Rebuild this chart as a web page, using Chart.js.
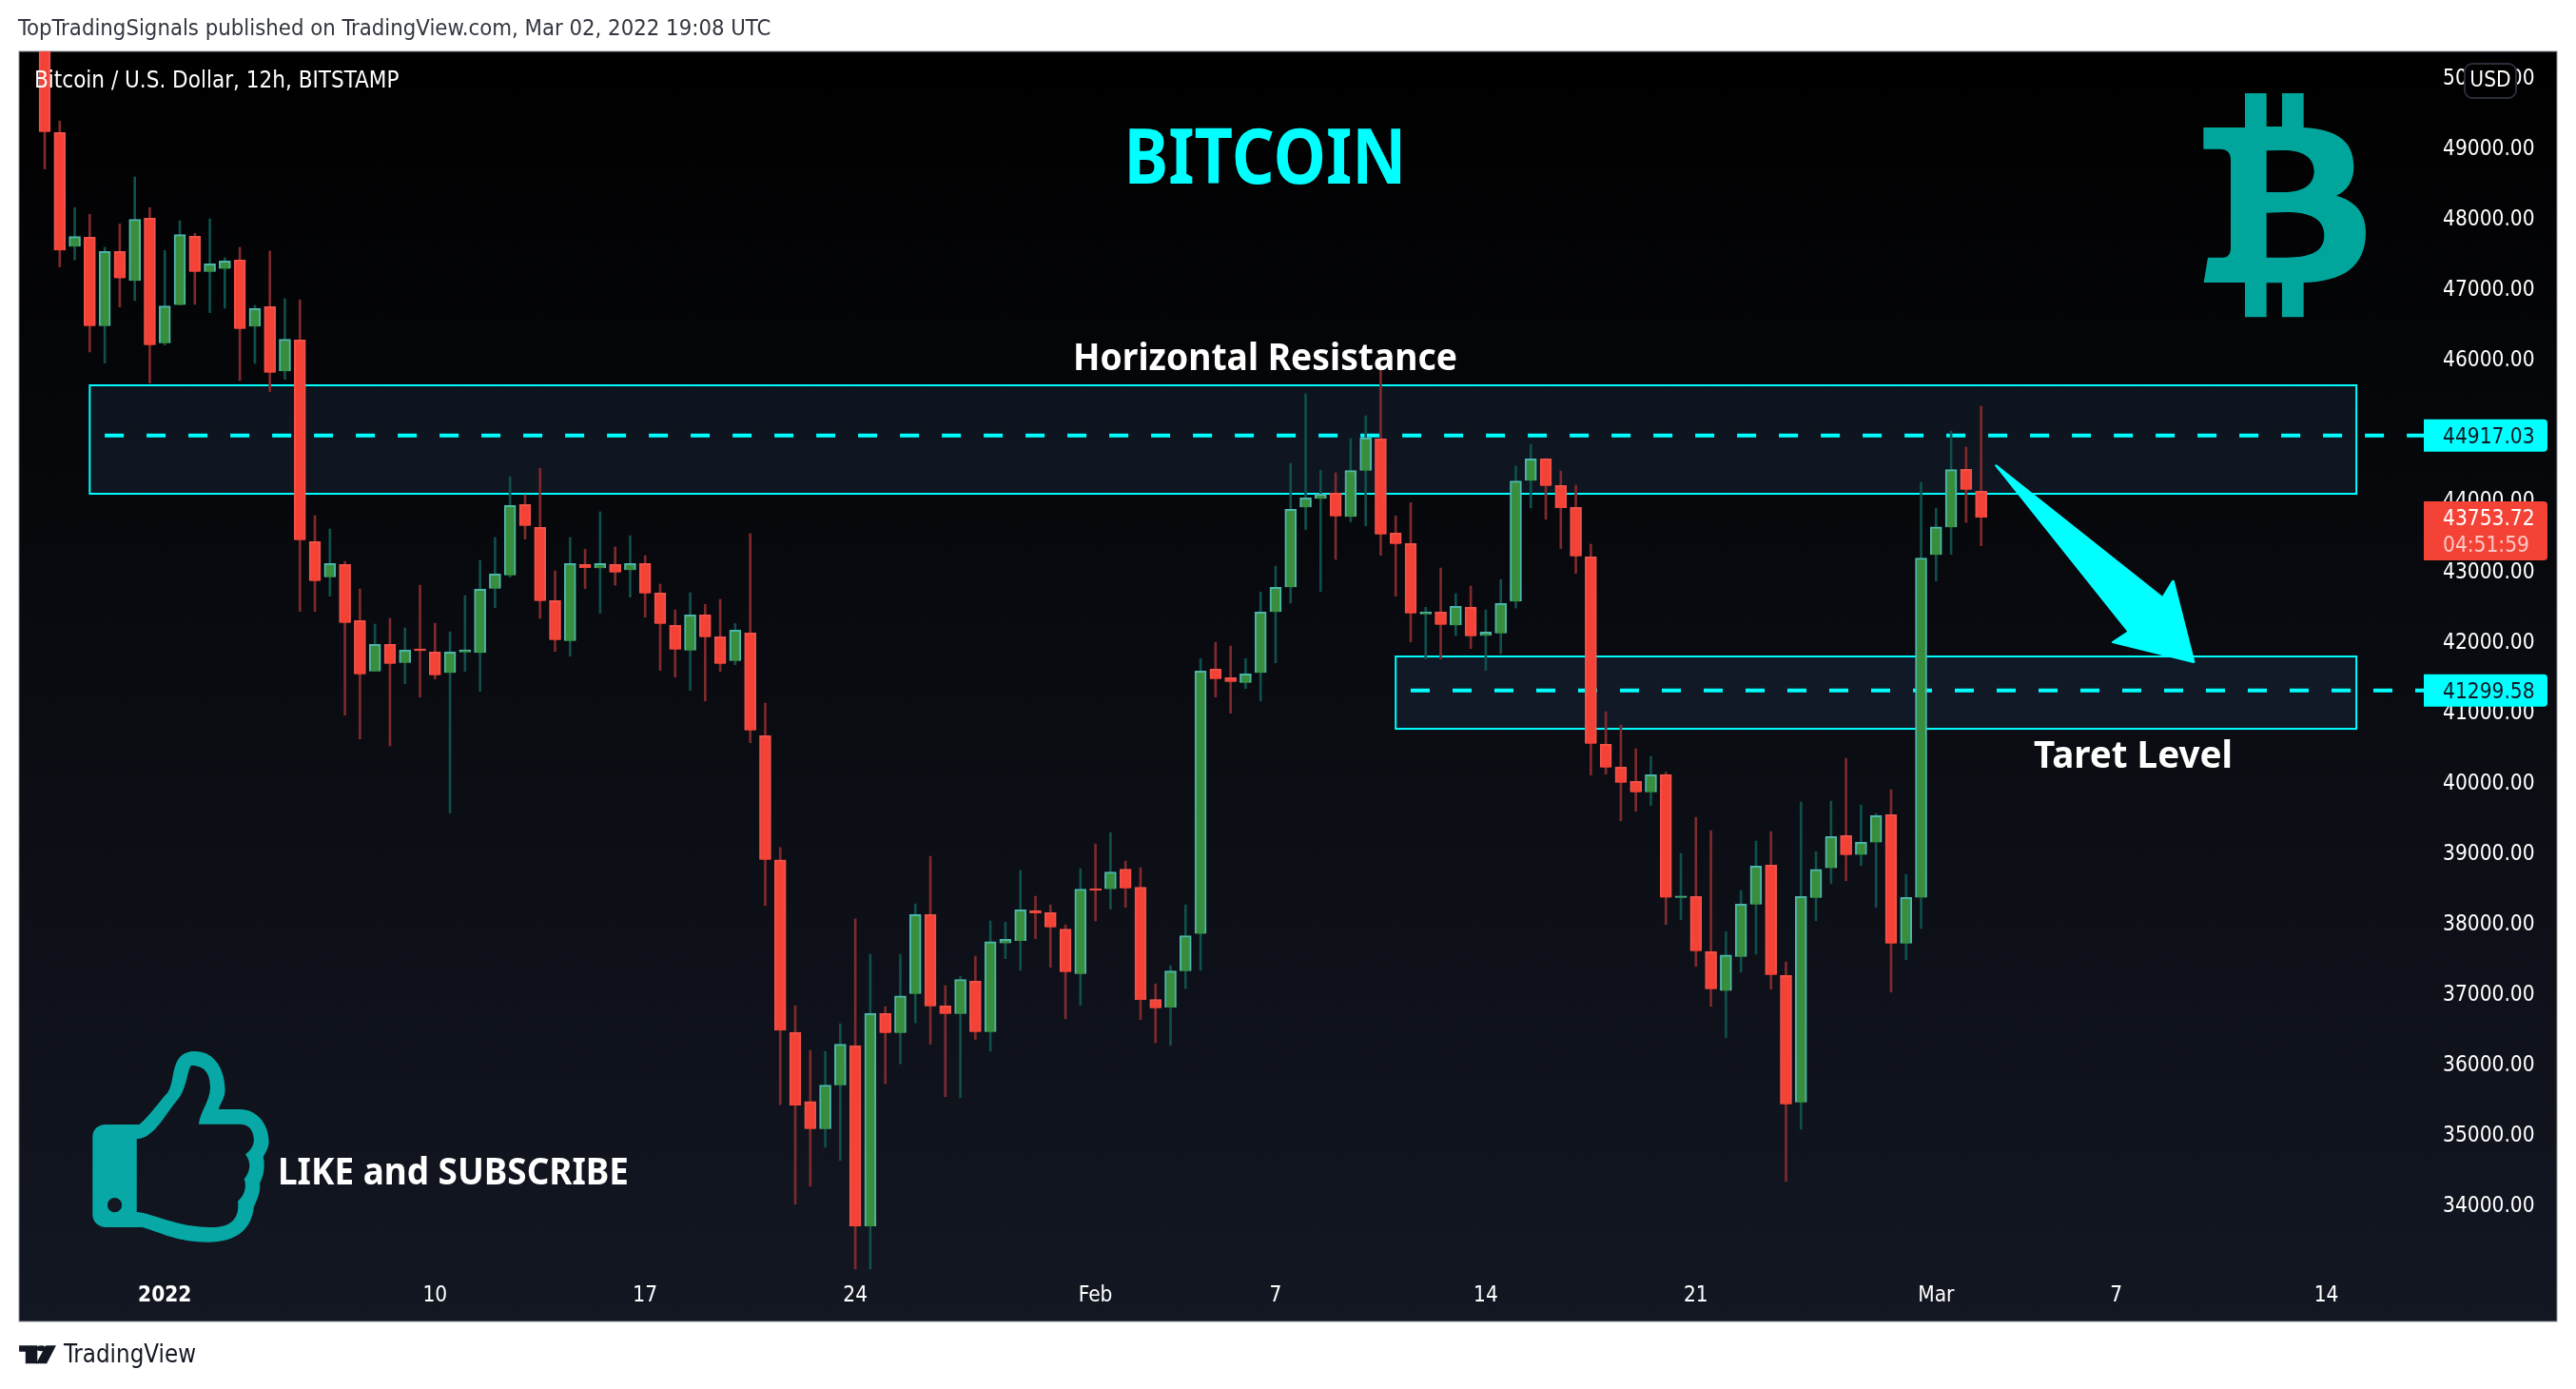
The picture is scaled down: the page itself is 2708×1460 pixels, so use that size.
<!DOCTYPE html>
<html>
<head>
<meta charset="utf-8">
<title>Bitcoin / U.S. Dollar, 12h</title>
<script src="https://cdn.jsdelivr.net/npm/chart.js@4"></script>
<style>
  html, body { margin: 0; padding: 0; background: #fff; }
  canvas { display: block; }
</style>
</head>
<body>
<canvas id="chart" width="2708" height="1460"></canvas>
<script>
// 12h candles, first one is Dec 28 00:00, last one Mar 2 12:00
const candleOpen = [
  50700, 49215, 47595, 47730, 46470, 47528, 47109, 48000, 46227, 46767,
  47744, 47239, 47280, 47406, 46461, 46745, 45827, 46272, 43410, 42906,
  43086, 42290, 41569, 41952, 41691, 41889, 41844, 41547, 41839, 41831,
  42744, 42933, 43937, 43613, 42573, 42001, 43086, 43032, 43086, 43005,
  43100, 42681, 42222, 41866, 42371, 42060, 41718, 42114, 40656, 38895,
  36448, 35468, 35076, 35697, 36259, 33697, 36714, 36440, 36993, 38118,
  36822, 36709, 37173, 36455, 37711, 37747, 38176, 38145, 37912, 37277,
  38487, 38480, 38765, 38507, 36916, 36802, 37318, 37846, 41601, 41480,
  41407, 41547, 42411, 42762, 43896, 44018, 44099, 43761, 44418, 44868,
  43532, 43383, 42379, 42411, 42222, 42479, 42074, 42109, 42560, 44274,
  44585, 44207, 43896, 43194, 40535, 40211, 40008, 39855, 40103, 38356,
  38375, 37592, 37038, 37519, 38262, 38820, 37254, 35454, 38356, 38780,
  39239, 38969, 39144, 39536, 37708, 38361, 43221, 43613, 44436, 44126
];
const candleHigh = [
  50900, 49377, 48149, 48054, 47586, 47919, 48585, 48149, 47541, 47964,
  47784, 47991, 47437, 47586, 46762, 47532, 46857, 46843, 43779, 43590,
  43131, 42739, 42240, 42321, 42186, 42793, 42253, 42132, 42645, 43144,
  43468, 44332, 44076, 44450, 42996, 43468, 43302, 43833, 43334, 43495,
  43212, 42807, 42442, 42685, 42519, 42591, 42249, 43522, 41119, 39070,
  36826, 36192, 36178, 36570, 38058, 37555, 36813, 37555, 38271, 38946,
  37111, 37245, 37530, 38028, 38014, 38743, 38379, 38257, 37974, 38770,
  39121, 39283, 38878, 38785, 37137, 37393, 38257, 41750, 41983, 41929,
  41750, 42695, 43063, 44521, 45507, 44423, 44386, 44872, 45196, 45840,
  43775, 43964, 42479, 43036, 42672, 42780, 42442, 42874, 44481, 44791,
  44589, 44413, 44211, 43374, 40998, 40809, 40472, 40363, 40138, 38986,
  39499, 39310, 37879, 38460, 39162, 39297, 37447, 39715, 39013, 39729,
  40336, 39675, 39553, 39891, 38689, 44251, 43887, 44980, 44751, 45331
];
const candleLow = [
  48697, 47307, 47406, 46101, 45943, 46740, 46830, 45660, 46200, 46767,
  46776, 46659, 46722, 45696, 45939, 45538, 45714, 42420, 42420, 42636,
  40948, 40611, 41569, 40512, 41394, 41205, 41461, 39558, 41569, 41286,
  42474, 42906, 43446, 42321, 41853, 41785, 42744, 42393, 42793, 42622,
  42339, 41583, 41488, 41299, 41151, 41569, 41664, 40558, 38248, 35422,
  34012, 34266, 34818, 34631, 33092, 33092, 35720, 36003, 36583, 36280,
  35536, 35521, 36347, 36181, 37493, 37329, 37778, 37371, 36642, 36833,
  38028, 38197, 38222, 36631, 36300, 36265, 37069, 37329, 41205, 40975,
  41326, 41151, 41691, 42537, 43581, 42703, 43158, 43689, 43635, 43216,
  42636, 41988, 41745, 41745, 42078, 41893, 41583, 41821, 42469, 43887,
  43729, 43311, 42960, 40098, 40111, 39450, 39585, 39666, 37978, 38046,
  37384, 36817, 36371, 37303, 37560, 37060, 34333, 35076, 38032, 38559,
  38599, 38815, 38221, 37020, 37479, 37924, 42852, 43230, 43684, 43351
];
const candleClose = [
  49223, 47541, 47739, 46470, 47528, 47145, 47982, 46200, 46753, 47766,
  47239, 47352, 47393, 46429, 46718, 45808, 46281, 43432, 42852, 43100,
  42258, 41529, 41952, 41677, 41871, 41862, 41515, 41844, 41875, 42735,
  42951, 43923, 43635, 42568, 42015, 43100, 43041, 43100, 42973, 43100,
  42676, 42244, 41880, 42371, 42055, 41677, 42155, 40732, 38895, 36475,
  35412, 35076, 35701, 36280, 33697, 36714, 36440, 36967, 38118, 36817,
  36709, 37199, 36455, 37736, 37767, 38186, 38136, 37939, 37303, 38480,
  38460, 38723, 38491, 36910, 36791, 37318, 37820, 41574, 41461, 41421,
  41534, 42411, 42762, 43869, 44031, 44085, 43770, 44418, 44882, 43513,
  43378, 42393, 42411, 42231, 42492, 42069, 42128, 42533, 44269, 44585,
  44201, 43891, 43203, 40543, 40206, 39990, 39855, 40103, 38361, 38375,
  37600, 37060, 37546, 38267, 38807, 37262, 35427, 38375, 38761, 39225,
  38964, 39144, 39522, 37708, 38361, 43176, 43621, 44431, 44148, 43753.72
];

const priceTicks = [
  34000, 35000, 36000, 37000, 38000, 39000, 40000, 41000, 42000,
  43000, 44000, 46000, 47000, 48000, 49000, 50000
];
const timeTickCandles = [8, 26, 40, 54, 70, 82, 96, 110, 126, 138, 152];
const timeTickLabels = ['2022', '10', '17', '24', 'Feb', '7', '14', '21', 'Mar', '7', '14'];

const resistanceZone = [45628, 44089];
const targetZone = [41781, 40755];
const resistanceCandles = [3, 154];
const targetCandles = [90, 154];
const resistanceLevel = 44917.03;
const targetLevel = 41299.58;
const lastPrice = 43753.72;

const FONT = '"DejaVu Sans Condensed", "DejaVu Sans", sans-serif';
const TITLE_FONT = '"Noto Sans", sans-serif';
const CYAN = '#00ffff';
const PANEL = { left: 20, top: 54, right: 2688, bottom: 1389 };

const isUp = (i) => candleClose[i] >= candleOpen[i];
const candles = candleOpen.map((open, i) => i);

function drawText(ctx, text, x, y, font, color, align, maxWidth) {
  ctx.font = font;
  ctx.fillStyle = color;
  ctx.textAlign = align || 'left';
  ctx.textBaseline = 'middle';
  if (maxWidth) {
    ctx.fillText(text, x, y, maxWidth);
  } else {
    ctx.fillText(text, x, y);
  }
}

function drawZone(chart, prices, span) {
  const { ctx, scales } = chart;
  const x1 = scales.x.getPixelForValue(span[0]);
  const x2 = scales.x.getPixelForValue(span[1]);
  const y1 = scales.y.getPixelForValue(prices[0]);
  const y2 = scales.y.getPixelForValue(prices[1]);
  ctx.fillStyle = 'rgba(85, 145, 230, 0.1)';
  ctx.fillRect(x1, y1, x2 - x1, y2 - y1);
  ctx.strokeStyle = CYAN;
  ctx.lineWidth = 2;
  ctx.setLineDash([]);
  ctx.strokeRect(x1, y1, x2 - x1, y2 - y1);
}

function drawLevel(chart, price, fromCandle) {
  const { ctx, scales, chartArea } = chart;
  const y = scales.y.getPixelForValue(price);
  ctx.strokeStyle = CYAN;
  ctx.lineWidth = 4;
  ctx.setLineDash([20, 24]);
  ctx.beginPath();
  ctx.moveTo(scales.x.getPixelForValue(fromCandle), y);
  ctx.lineTo(chartArea.right, y);
  ctx.stroke();
  ctx.setLineDash([]);
}

function drawPriceBox(ctx, top, height, color) {
  ctx.fillStyle = color;
  ctx.beginPath();
  ctx.roundRect(2548, top, 130, height, [0, 4, 4, 0]);
  ctx.fill();
}

function drawBitcoinLogo(ctx) {
  ctx.save();
  ctx.translate(2200, 40);
  ctx.scale(1 / 3, 1 / 3);
  ctx.fillStyle = '#00a59b';
  const logo = new Path2D(
    'M349 282 L480 282 L480 174 L548 174 L548 279 L597 279 L597 174 L665 174 L665 282 ' +
    'C770 288 823 325 823 405 C823 450 803 482 768 497 C825 512 861 550 861 612 ' +
    'C861 720 790 768 665 771 L665 880 L597 880 L597 772 L548 772 L548 880 L480 880 L480 771 ' +
    'L350 771 L363 692 L410 692 C428 692 435 680 435 660 L435 385 C435 362 425 350 400 350 L349 350 Z ' +
    'M548 355 L548 486 L600 486 C660 486 698 465 698 420 C698 375 660 354 600 354 Z ' +
    'M548 551 L548 692 L610 692 C685 692 730 675 730 622 C730 570 685 549 610 549 Z'
  );
  ctx.fill(logo, 'evenodd');
  ctx.restore();
}

function drawThumb(ctx) {
  ctx.save();
  ctx.translate(0, 1080);
  ctx.scale(1 / 2.24, 1 / 3);
  ctx.fillStyle = '#07a8a6';
  const thumb = new Path2D(
    'M218 345 C218 320 232 306 250 306 L328 306 C345 290 375 235 395 205 C408 180 405 130 420 100 ' +
    'C430 80 445 75 458 75 C500 75 528 120 530 195 C530 225 518 240 515 258 L565 258 ' +
    'C605 258 633 305 633 360 C633 380 625 395 620 408 C625 440 620 470 612 490 ' +
    'C614 520 605 545 598 565 C592 640 555 677 490 677 C420 677 385 650 335 630 L250 630 ' +
    'C232 630 218 612 218 590 Z ' +
    'M322 352 L322 582 C360 585 420 632 500 630 C545 630 565 600 560 548 ' +
    'C575 530 582 505 575 478 C590 455 592 425 578 400 C595 385 600 360 597 345 ' +
    'C595 322 585 305 565 305 L468 305 C470 270 495 230 495 190 C495 150 485 120 450 120 ' +
    'C440 140 440 190 420 225 C395 260 365 350 322 352 Z'
  );
  ctx.fill(thumb, 'evenodd');
  ctx.fillStyle = '#131722';
  ctx.beginPath();
  ctx.ellipse(270, 560, 17, 23, 0, 0, Math.PI * 2);
  ctx.fill();
  ctx.restore();
}

function drawTradingViewLogo(ctx) {
  ctx.save();
  ctx.translate(0, 1080);
  ctx.scale(1 / 2.24, 1 / 3);
  ctx.fillStyle = '#131722';
  ctx.fill(new Path2D('M45 1003 L88 1003 L88 1060 L60 1060 L60 1022 L45 1022 Z'));
  ctx.fill(new Path2D('M108 1003 L132 1003 L110 1060 L85 1060 Z'));
  ctx.beginPath();
  ctx.ellipse(97, 1012, 11, 9, 0, 0, Math.PI * 2);
  ctx.fill();
  ctx.restore();
}

function drawArrow(ctx) {
  ctx.save();
  ctx.translate(2000, 380);
  ctx.scale(1 / 2.215, 1 / 3);
  ctx.fillStyle = CYAN;
  ctx.strokeStyle = CYAN;
  ctx.lineJoin = 'round';
  ctx.lineWidth = 6;
  ctx.beginPath();
  ctx.moveTo(218, 328);
  ctx.lineTo(606, 745);
  ctx.lineTo(630, 692);
  ctx.lineTo(678, 948);
  ctx.lineTo(490, 885);
  ctx.lineTo(527, 852);
  ctx.closePath();
  ctx.fill();
  ctx.stroke();
  ctx.restore();
}

const panelPlugin = {
  id: 'panel',
  beforeDraw(chart) {
    const { ctx } = chart;
    const w = PANEL.right - PANEL.left;
    const h = PANEL.bottom - PANEL.top;
    ctx.save();
    ctx.fillStyle = '#fff';
    ctx.fillRect(0, 0, chart.width, chart.height);
    const gradient = ctx.createLinearGradient(0, PANEL.top, 0, PANEL.bottom);
    gradient.addColorStop(0, '#000000');
    gradient.addColorStop(1, '#131722');
    ctx.fillStyle = gradient;
    ctx.fillRect(PANEL.left, PANEL.top, w, h);
    ctx.strokeStyle = '#8a8d97';
    ctx.lineWidth = 1;
    ctx.strokeRect(PANEL.left, PANEL.top, w, h);
    ctx.restore();
  },
  beforeDatasetsDraw(chart) {
    const { ctx } = chart;
    ctx.save();
    drawZone(chart, resistanceZone, resistanceCandles);
    drawZone(chart, targetZone, targetCandles);
    drawLevel(chart, resistanceLevel, 4);
    drawLevel(chart, targetLevel, 91);
    ctx.restore();
  },
  afterDraw(chart) {
    const { ctx, scales } = chart;
    const tickFont = `22.5px ${FONT}`;
    ctx.save();

    const yResistance = scales.y.getPixelForValue(resistanceLevel);
    const yTarget = scales.y.getPixelForValue(targetLevel);
    const yLast = scales.y.getPixelForValue(lastPrice);
    drawPriceBox(ctx, yResistance - 17, 34, CYAN);
    drawText(ctx, resistanceLevel.toFixed(2), 2568, yResistance + 2, tickFont, '#131722');
    drawPriceBox(ctx, yTarget - 17, 34, CYAN);
    drawText(ctx, targetLevel.toFixed(2), 2568, yTarget + 2, tickFont, '#131722');
    drawPriceBox(ctx, yLast - 17, 62, '#f44336');
    drawText(ctx, lastPrice.toFixed(2), 2568, yLast + 2, tickFont, '#ffffff');
    drawText(ctx, '04:51:59', 2568, yLast + 30, tickFont, '#fbc9c5');

    ctx.fillStyle = '#000';
    ctx.strokeStyle = '#2a2e39';
    ctx.lineWidth = 2;
    ctx.beginPath();
    ctx.roundRect(2591, 67, 54, 36, 8);
    ctx.fill();
    ctx.stroke();
    drawText(ctx, 'USD', 2618, 85, tickFont, '#ffffff', 'center');

    drawBitcoinLogo(ctx);
    drawThumb(ctx);
    drawArrow(ctx);

    drawText(ctx, 'BITCOIN', 1330, 170, `bold 81px ${TITLE_FONT}`, CYAN, 'center', 297);
    drawText(ctx, 'Horizontal Resistance', 1330, 378, `bold 40px ${TITLE_FONT}`, '#ffffff', 'center', 404);
    drawText(ctx, 'Taret Level', 2138, 796, `bold 40px ${TITLE_FONT}`, '#ffffff', 'left', 209);
    drawText(ctx, 'LIKE and SUBSCRIBE', 292, 1234, `bold 40px ${TITLE_FONT}`, '#ffffff', 'left', 369);
    drawText(ctx, 'Bitcoin / U.S. Dollar, 12h, BITSTAMP', 36, 86, `24px ${FONT}`, '#ffffff', 'left', 386);
    drawText(ctx, 'TopTradingSignals published on TradingView.com, Mar 02, 2022 19:08 UTC', 19, 31, `23.7px ${FONT}`, '#333640', 'left', 793);

    drawTradingViewLogo(ctx);
    drawText(ctx, 'TradingView', 67, 1425, `26px ${FONT}`, '#131722', 'left', 139);
    ctx.restore();
  },
};

const chart = new Chart(document.getElementById('chart'), {
  type: 'bar',
  data: {
    datasets: [
      {
        label: 'Body',
        grouped: false,
        barThickness: 12,
        minBarLength: 2,
        borderWidth: 2,
        data: candles.map((i) => ({ x: i, y: [candleOpen[i], candleClose[i]] })),
        backgroundColor: candles.map((i) => (isUp(i) ? '#388e3c' : '#f44336')),
        borderColor: candles.map((i) => (isUp(i) ? '#4db6ac' : '#f0524a')),
      },
      {
        label: 'Wick',
        grouped: false,
        barThickness: 2,
        borderWidth: 0,
        data: candles.map((i) => ({ x: i, y: [candleLow[i], candleHigh[i]] })),
        backgroundColor: candles.map((i) => (isUp(i) ? '#0f4f4c' : '#7f2a2d')),
      },
    ],
  },
  options: {
    responsive: false,
    animation: false,
    layout: { padding: { left: 20, top: 54, right: 20, bottom: 71 } },
    plugins: { legend: { display: false }, tooltip: { enabled: false } },
    scales: {
      x: {
        type: 'linear',
        offset: false,
        min: -1.711,
        max: 158.49,
        grid: { display: false },
        border: { display: false },
        afterFit(axis) { axis.height = 49; },
        afterBuildTicks(axis) {
          axis.ticks = timeTickCandles.map((value) => ({ value }));
        },
        ticks: {
          autoSkip: false,
          maxRotation: 0,
          padding: 1,
          color: '#ffffff',
          font: (ctx) => ({
            family: FONT,
            size: 22.5,
            weight: ctx.tick && ctx.tick.value === 8 ? 'bold' : 'normal',
          }),
          callback: (value) => timeTickLabels[timeTickCandles.indexOf(value)],
        },
      },
      y: {
        position: 'right',
        min: 33008.4,
        max: 50365.6,
        grid: { display: false, drawTicks: false },
        border: { display: false },
        afterFit(axis) { axis.width = 140; },
        afterBuildTicks(axis) {
          axis.ticks = priceTicks.map((value) => ({ value }));
        },
        ticks: {
          padding: 20,
          labelOffset: 2,
          color: '#ffffff',
          font: { family: FONT, size: 22.5 },
          callback: (value) => value.toFixed(2),
        },
      },
    },
  },
  plugins: [panelPlugin],
});
</script>
</body>
</html>
